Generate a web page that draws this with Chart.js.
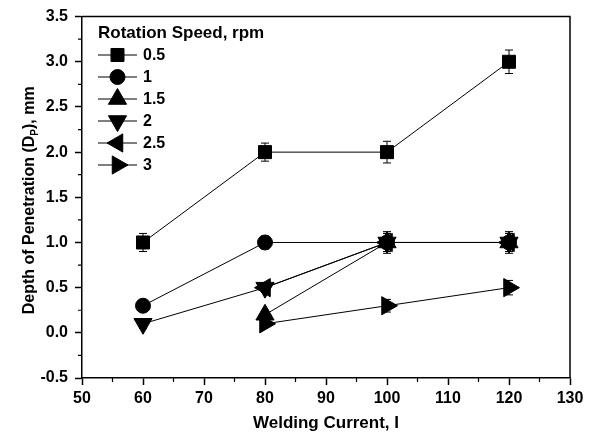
<!DOCTYPE html>
<html><head><meta charset="utf-8">
<script src="https://cdn.jsdelivr.net/npm/chart.js@4/dist/chart.umd.min.js"></script>
<style>html,body{margin:0;padding:0;background:#fff;}</style>
</head><body>
<canvas id="c" width="599" height="441" style="display:block;width:599px;height:441px"></canvas>
<script>
// ---- data ----
const currentsAll = [60, 80, 100, 120];
const currentsFrom80 = [80, 100, 120];
const speedLabels = ['0.5', '1', '1.5', '2', '2.5', '3'];
const legendTitle = 'Rotation Speed, rpm';
const depth05 = [1.0, 2.0, 2.0, 3.0];
const err05 = [0.10, 0.10, 0.12, 0.13];
const depth1 = [0.3, 1.0, 1.0, 1.0];
const err1 = [0.05, 0.07, 0.12, 0.12];
const depth15 = [0.2, 1.0, 1.0];
const err15 = [0.05, 0.10, 0.10];
const depth2 = [0.1, 0.5, 1.0, 1.0];
const err2 = [0.05, 0.05, 0.10, 0.10];
const depth25 = [0.5, 1.0, 1.0];
const err25 = [0.05, 0.10, 0.10];
const depth3 = [0.1, 0.3, 0.5];
const err3 = [0.04, 0.07, 0.08];
const xTickValues = [50, 60, 70, 80, 90, 100, 110, 120, 130];
const xMinorValues = [55, 65, 75, 85, 95, 105, 115, 125];
const yTickValues = [-0.5, 0.0, 0.5, 1.0, 1.5, 2.0, 2.5, 3.0, 3.5];
const yMinorValues = [-0.25, 0.25, 0.75, 1.25, 1.75, 2.25, 2.75, 3.25];
const xTitle = 'Welding Current, I';
const yTitleParts = ['Depth of Penetration (D', 'P', '), mm'];

const FONT = "'Liberation Sans', Arial, Helvetica, sans-serif";

function pts(xs, ys) { return xs.map((x, i) => ({x: x, y: ys[i]})); }

const seriesX = [currentsAll, currentsAll, currentsFrom80, currentsAll, currentsFrom80, currentsFrom80];
const seriesY = [depth05, depth1, depth15, depth2, depth25, depth3];
const seriesErr = [err05, err1, err15, err2, err25, err3];
const markerStyle = [
  {pointStyle: 'rect', pointRadius: 9.2, pointRotation: 0},
  {pointStyle: 'circle', pointRadius: 7.5, pointRotation: 0},
  {pointStyle: 'triangle', pointRadius: 10.5, pointRotation: 0},
  {pointStyle: 'triangle', pointRadius: 10.5, pointRotation: 180},
  {pointStyle: 'triangle', pointRadius: 10.5, pointRotation: 270},
  {pointStyle: 'triangle', pointRadius: 10.5, pointRotation: 90}
];

const datasets = speedLabels.map((lab, i) => Object.assign({
  label: lab,
  data: pts(seriesX[i], seriesY[i]),
  errors: seriesErr[i],
  borderColor: '#000',
  backgroundColor: '#000',
  borderWidth: 1,
  pointBackgroundColor: '#000',
  pointBorderColor: '#000',
  pointBorderWidth: 1,
  showLine: true,
  tension: 0
}, markerStyle[i]));

function drawMarker(ctx, style, r, rot, x, y) {
  if (Chart.helpers && Chart.helpers.drawPoint) {
    Chart.helpers.drawPoint(ctx, {pointStyle: style, radius: r, rotation: rot, borderWidth: 1}, x, y);
    return;
  }
  ctx.beginPath();
  if (style === 'circle') ctx.arc(x, y, r, 0, Math.PI * 2);
  else if (style === 'rect') { const s = Math.SQRT1_2 * r; ctx.rect(x - s, y - s, 2 * s, 2 * s); }
  else {
    let rad = rot * Math.PI / 180;
    for (let k = 0; k < 3; k++) {
      const px = x + Math.sin(rad) * r, py = y - Math.cos(rad) * r;
      if (k === 0) ctx.moveTo(px, py); else ctx.lineTo(px, py);
      rad += 2 * Math.PI / 3;
    }
    ctx.closePath();
  }
  ctx.fill(); ctx.stroke();
}

const extras = {
  id: 'extras',
  beforeDatasetsDraw(chart) {
    const ctx = chart.ctx, xs = chart.scales.x, ys = chart.scales.y;
    ctx.save();
    ctx.strokeStyle = '#000';
    ctx.lineWidth = 1;
    chart.data.datasets.forEach(ds => {
      ds.data.forEach((p, j) => {
        const e = ds.errors[j];
        const x = xs.getPixelForValue(p.x);
        const y1 = ys.getPixelForValue(p.y + e), y2 = ys.getPixelForValue(p.y - e);
        ctx.beginPath();
        ctx.moveTo(x, y1); ctx.lineTo(x, y2);
        ctx.moveTo(x - 4, y1); ctx.lineTo(x + 4, y1);
        ctx.moveTo(x - 4, y2); ctx.lineTo(x + 4, y2);
        ctx.stroke();
      });
    });
    ctx.restore();
  },
  afterDraw(chart) {
    const ctx = chart.ctx, a = chart.chartArea, xs = chart.scales.x, ys = chart.scales.y;
    ctx.save();
    // frame top/right
    ctx.strokeStyle = '#000';
    ctx.lineWidth = 1.5;
    ctx.beginPath();
    ctx.moveTo(a.left, a.top); ctx.lineTo(a.right, a.top); ctx.lineTo(a.right, a.bottom);
    ctx.stroke();
    // minor ticks
    ctx.lineWidth = 1.2;
    ctx.beginPath();
    xMinorValues.forEach(v => { const x = xs.getPixelForValue(v); ctx.moveTo(x, a.bottom); ctx.lineTo(x, a.bottom + 4); });
    yMinorValues.forEach(v => { const y = ys.getPixelForValue(v); ctx.moveTo(a.left, y); ctx.lineTo(a.left - 4, y); });
    ctx.stroke();
    // y title with subscript
    ctx.fillStyle = '#000';
    ctx.translate(30, (a.top + a.bottom) / 2 + 3);
    ctx.rotate(-Math.PI / 2);
    ctx.textBaseline = 'middle';
    ctx.textAlign = 'left';
    const big = 'bold 16px ' + FONT, small = 'bold 10px ' + FONT;
    ctx.font = big; const w0 = ctx.measureText(yTitleParts[0]).width, w2 = ctx.measureText(yTitleParts[2]).width;
    ctx.font = small; const w1 = ctx.measureText(yTitleParts[1]).width;
    let sx = -(w0 + w1 + w2) / 2;
    ctx.font = big; ctx.fillText(yTitleParts[0], sx, 0); sx += w0;
    ctx.font = small; ctx.fillText(yTitleParts[1], sx, 5); sx += w1;
    ctx.font = big; ctx.fillText(yTitleParts[2], sx, 0);
    ctx.restore();
    // legend
    ctx.save();
    ctx.fillStyle = '#000'; ctx.strokeStyle = '#000';
    ctx.textBaseline = 'middle'; ctx.textAlign = 'left';
    ctx.font = 'bold 17px ' + FONT;
    ctx.fillText(legendTitle, 98, 33);
    chart.data.datasets.forEach((ds, i) => {
      const y = 55 + i * 22;
      ctx.lineWidth = 1;
      ctx.beginPath(); ctx.moveTo(98, y); ctx.lineTo(137, y); ctx.stroke();
      drawMarker(ctx, ds.pointStyle, ds.pointRadius, ds.pointRotation, 117.5, y);
      ctx.font = 'bold 16px ' + FONT;
      ctx.fillText(ds.label, 143, y + 1);
    });
    ctx.restore();
  }
};

Chart.defaults.font.family = FONT;
Chart.defaults.color = '#000';

new Chart(document.getElementById('c'), {
  type: 'scatter',
  data: {datasets: datasets},
  plugins: [extras],
  options: {
    responsive: false,
    animation: false,
    layout: {padding: {top: 16, right: 29, left: 0, bottom: 0}},
    plugins: {legend: {display: false}, tooltip: {enabled: false}},
    scales: {
      x: {
        type: 'linear', min: 50, max: 130,
        afterBuildTicks: s => { s.ticks = xTickValues.map(v => ({value: v})); },
        afterFit: s => { s.height = 63; },
        ticks: {font: {size: 16, weight: 'bold'}, padding: 4, maxRotation: 0, autoSkip: false, callback: v => String(v)},
        grid: {drawOnChartArea: false, drawTicks: true, tickLength: 7, tickWidth: 1.5, tickColor: '#000'},
        border: {display: true, color: '#000', width: 1.5},
        title: {display: true, text: xTitle, font: {size: 17, weight: 'bold'}, padding: {top: 0, bottom: 7}}
      },
      y: {
        type: 'linear', min: -0.5, max: 3.5,
        afterBuildTicks: s => { s.ticks = yTickValues.map(v => ({value: v})); },
        afterFit: s => { s.width = 82; },
        ticks: {font: {size: 16, weight: 'bold'}, padding: 7, autoSkip: false, callback: v => Number(v).toFixed(1)},
        grid: {drawOnChartArea: false, drawTicks: true, tickLength: 7, tickWidth: 1.5, tickColor: '#000'},
        border: {display: true, color: '#000', width: 1.5},
        title: {display: false}
      }
    }
  }
});
</script>
</body></html>
